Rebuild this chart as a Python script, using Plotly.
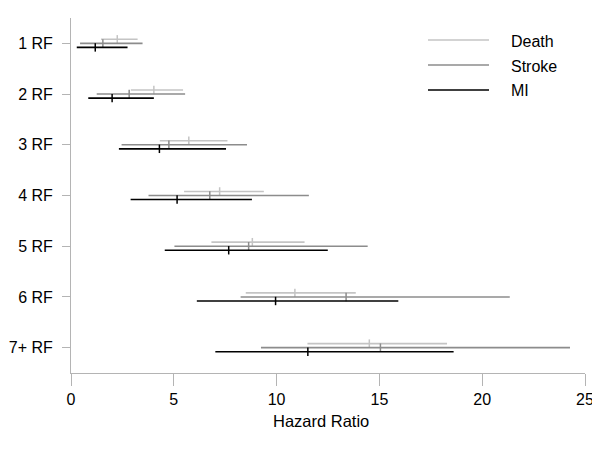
import plotly.graph_objects as go

categories = ["1 RF", "2 RF", "3 RF", "4 RF", "5 RF", "6 RF", "7+ RF"]

death_est = [2.25, 4.03, 5.73, 7.23, 8.82, 10.89, 14.51]
death_lo = [1.46, 2.91, 4.32, 5.50, 6.83, 8.50, 11.50]
death_hi = [3.24, 5.45, 7.61, 9.38, 11.36, 13.85, 18.29]

stroke_est = [1.55, 2.83, 4.76, 6.75, 8.64, 13.38, 15.05]
stroke_lo = [0.44, 1.25, 2.46, 3.77, 5.03, 8.25, 9.24]
stroke_hi = [3.48, 5.55, 8.56, 11.57, 14.43, 21.34, 24.27]

mi_est = [1.18, 2.00, 4.30, 5.16, 7.67, 9.95, 11.52]
mi_lo = [0.28, 0.84, 2.33, 2.90, 4.56, 6.12, 7.02]
mi_hi = [2.75, 4.03, 7.54, 8.80, 12.49, 15.92, 18.61]

series = [
    ("Death", death_est, death_lo, death_hi, "#c4c4c4", -0.08),
    ("Stroke", stroke_est, stroke_lo, stroke_hi, "#8c8c8c", 0.0),
    ("MI", mi_est, mi_lo, mi_hi, "#000000", 0.08),
]

FONT = "Liberation Sans, Arial, sans-serif"
W, H = 600, 450
OFF = 8  # page body margin
# target plot area in screenshot pixels
PL, PR, PT, PB = 71, 585, 18, 373
ML, MT = PL - OFF, PT - OFF
MR = W - (PR - OFF)
MB = H - (PB - OFF)

fig = go.Figure()
for name, est, lo, hi, col, off in series:
    ys = [i + off for i in range(len(categories))]
    fig.add_trace(go.Scatter(
        x=est, y=ys, mode="markers", name=name, showlegend=False,
        marker=dict(symbol="line-ns", size=6, line=dict(color=col, width=1.5), color=col),
        error_x=dict(type="data", symmetric=False,
                     array=[h - e for h, e in zip(hi, est)],
                     arrayminus=[e - l for e, l in zip(est, lo)],
                     color=col, thickness=1.6, width=0),
    ))

# manual legend (screenshot pixel layout -> paper coords)
pw, ph = PR - PL, PB - PT
def px(x):
    return (x - PL) / pw
def py(y):
    return 1 - (y - PT) / ph

leg_y = [40, 65, 90]
for (name, _, _, _, col, _), ly in zip(series, leg_y):
    fig.add_shape(type="line", xref="paper", yref="paper",
                  x0=px(428), x1=px(489), y0=py(ly), y1=py(ly),
                  line=dict(color=col, width=1.6))
    fig.add_annotation(xref="paper", yref="paper", x=px(509), y=py(ly + 1),
                       text=name, showarrow=False, xanchor="left", yanchor="middle",
                       font=dict(family=FONT, size=16, color="#000"))

# x-axis title
fig.add_annotation(xref="paper", yref="paper", x=px(321), y=py(421),
                   text="Hazard Ratio", showarrow=False, xanchor="center", yanchor="middle",
                   font=dict(family=FONT, size=16.5, color="#000"))

axcol = "#b4b4b4"
fig.update_layout(
    width=W, height=H,
    margin=dict(l=ML, r=MR, t=MT, b=MB, autoexpand=False),
    plot_bgcolor="white", paper_bgcolor="white",
    font=dict(family=FONT, size=16, color="#000"),
    showlegend=False,
    xaxis=dict(range=[0, 25], tickvals=[0, 5, 10, 15, 20, 25], automargin=False,
               showgrid=False, zeroline=False, showline=True, linecolor=axcol, linewidth=1,
               ticks="outside", ticklen=12, tickcolor=axcol),
    yaxis=dict(range=[6.5, -0.5], tickvals=list(range(len(categories))), ticktext=categories,
               automargin=False,
               showgrid=False, zeroline=False, showline=True, linecolor=axcol, linewidth=1,
               ticks="outside", ticklen=8, tickcolor=axcol, ticklabelstandoff=6),
)

fig.write_html("out.html")
